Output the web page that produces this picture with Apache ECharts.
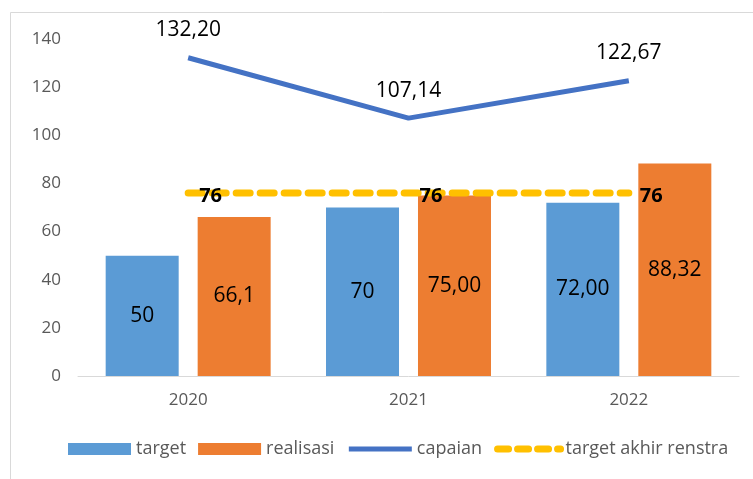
<!DOCTYPE html>
<html>
<head>
<meta charset="utf-8">
<script src="https://cdn.jsdelivr.net/npm/echarts@6/dist/echarts.min.js"></script>
<style>
html, body { margin: 0; padding: 0; background: #fff; }
#main { width: 753px; height: 479px; }
</style>
</head>
<body>
<div id="main"></div>
<script>
var years = ['2020', '2021', '2022'];
var target = [50, 70, 72];
var targetLabels = ['50', '70', '72,00'];
var realisasi = [66.1, 75, 88.32];
var realisasiLabels = ['66,1', '75,00', '88,32'];
var capaian = [132.2, 107.14, 122.67];
var capaianLabels = ['132,20', '107,14', '122,67'];
var renstra = [76, 76, 76];
var yTicks = [0, 20, 40, 60, 80, 100, 120, 140];

var font = '"Open Sans", sans-serif';
var clear = 'rgba(0,0,0,0)';

function labelFrom(list) {
    return function (p) { return list[p.dataIndex]; };
}

var myChart = echarts.init(document.getElementById('main'));
var option = {
    animation: false,
    backgroundColor: '#fff',
    textStyle: { fontFamily: font },
    graphic: [{
        type: 'rect',
        shape: { x: 10.5, y: 12.5, width: 760, height: 480 },
        style: { fill: 'none', stroke: '#d9d9d9', lineWidth: 1 },
        silent: true
    }],
    grid: { left: 78, right: 14, top: 39, bottom: 103 },
    legend: {
        bottom: 16,
        left: 63,
        itemWidth: 63,
        itemHeight: 12,
        itemGap: 12,
        textStyle: { fontSize: 18, color: '#595959', fontFamily: font },
        data: [
            { name: 'target', icon: 'rect' },
            { name: 'realisasi', icon: 'rect' },
            { name: 'capaian', itemStyle: { opacity: 0 }, lineStyle: { width: 5 } },
            { name: 'target akhir renstra', itemStyle: { opacity: 0 },
              lineStyle: { width: 7, type: [11, 9], cap: 'round' } }
        ]
    },
    xAxis: {
        type: 'category',
        data: years,
        axisLine: { lineStyle: { color: '#d9d9d9', width: 1 } },
        axisTick: { show: false },
        axisLabel: { color: '#595959', fontSize: 17, margin: 16, fontFamily: font }
    },
    yAxis: {
        type: 'value',
        min: yTicks[0],
        max: yTicks[yTicks.length - 1],
        interval: 20,
        splitLine: { show: false },
        axisLine: { show: false },
        axisTick: { show: false },
        axisLabel: { color: '#595959', fontSize: 17, margin: 17, fontFamily: font }
    },
    series: [
        {
            name: 'target',
            type: 'bar',
            data: target,
            barWidth: 73,
            barGap: '26%',
            itemStyle: { color: '#5B9BD5' },
            label: {
                show: true, position: 'inside', color: '#000', fontSize: 21,
                fontFamily: font, formatter: labelFrom(targetLabels)
            }
        },
        {
            name: 'realisasi',
            type: 'bar',
            data: realisasi,
            barWidth: 73,
            itemStyle: { color: '#ED7D31' },
            label: {
                show: true, position: 'inside', color: '#000', fontSize: 21,
                fontFamily: font, formatter: labelFrom(realisasiLabels)
            }
        },
        {
            name: 'capaian',
            type: 'line',
            data: capaian,
            symbol: 'circle',
            symbolSize: 2,
            showSymbol: true,
            lineStyle: { color: '#4472C4', width: 5 },
            itemStyle: { color: clear, borderWidth: 0 },
            label: {
                show: true, position: 'top', distance: 16, color: '#000', fontSize: 21,
                fontFamily: font, formatter: labelFrom(capaianLabels)
            }
        },
        {
            name: 'target akhir renstra',
            type: 'line',
            data: renstra,
            symbol: 'circle',
            symbolSize: 2,
            showSymbol: true,
            z: 3,
            lineStyle: { color: '#FFC000', width: 7, type: [14, 10], cap: 'round' },
            itemStyle: { color: clear, borderWidth: 0 },
            label: {
                show: true, position: 'right', distance: 10, color: '#000', fontSize: 20,
                fontWeight: 'bold', fontFamily: font, offset: [0, 3],
                formatter: function (p) { return String(p.value); }
            }
        }
    ]
};
myChart.setOption(option);
</script>
</body>
</html>
